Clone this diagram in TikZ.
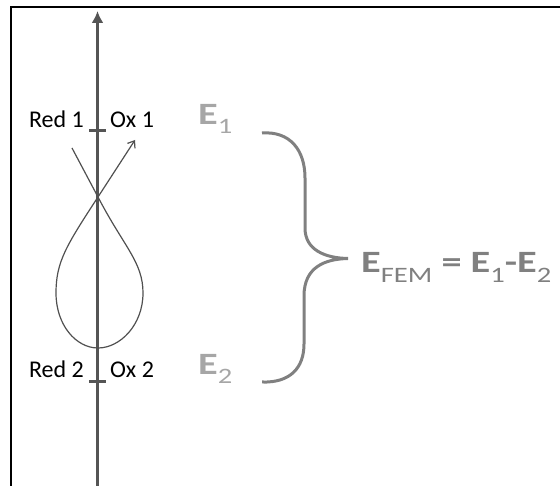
\documentclass[tikz,border=0pt]{standalone}
\usepackage{fontspec}
\usepackage{graphicx}
\setmainfont{Carlito}
\usetikzlibrary{arrows.meta}

\definecolor{axisgrey}{HTML}{555555}
\definecolor{curvegrey}{HTML}{505050}
\definecolor{bracegrey}{HTML}{808080}
\definecolor{levelgrey}{HTML}{A6A6A6}

% lowered index in the same font
\newcommand{\lowidx}[2]{\raisebox{-#1}{\fontsize{22}{22}\selectfont #2}}
% the energy labels are set wide
\newcommand{\widetext}[1]{\scalebox{1.3}[1]{#1}}

\begin{document}
\begin{tikzpicture}[x=1pt, y=-1pt,
  redox/.style={font=\fontsize{24}{28}\selectfont, text=black, inner sep=0pt},
  level/.style={font=\fontsize{31}{34}\selectfont\bfseries, text=levelgrey, inner sep=0pt},
  fem/.style={font=\fontsize{31}{36}\selectfont\bfseries, text=bracegrey, inner sep=0pt}]
  \useasboundingbox (0, 0) rectangle (560, 486);

  % frame, cut off at the right and bottom
  \draw[line width=1.2pt] (11, 486) -- (11, 7) -- (560, 7);

  \coordinate (Abot) at (97.5, 486);
  \coordinate (Atop) at (97.5, 11);
  \draw[line width=3pt, axisgrey, -{Latex[length=12pt, width=12pt]}] (Abot) -- (Atop);

  \coordinate (T1) at (97.5, 131);
  \coordinate (T2) at (97.5, 382);
  \draw[line width=3pt, axisgrey] (T1) +(-8.5, 0) -- +(8.5, 0);
  \draw[line width=3pt, axisgrey] (T2) +(-8.5, 0) -- +(8.5, 0);

  \node[redox, anchor=base east] (red1) at (84, 128) {Red 1};
  \node[redox, anchor=base west] (ox1) at (110, 128) {Ox 1};
  \node[redox, anchor=base east] (red2) at (84, 378) {Red 2};
  \node[redox, anchor=base west] (ox2) at (110, 378) {Ox 2};

  % the cyclic voltammogram loop
  \coordinate (S) at (72, 148);
  \coordinate (X) at (98, 197);
  \coordinate (P) at (135, 140);
  \draw[line width=1.2pt, curvegrey, -{Straight Barb[length=6pt, width=9pt]}]
    (S) -- (X) .. controls (124, 247) and (143, 262) .. (143, 293)
    .. controls (143, 325) and (120, 348) .. (98, 348)
    .. controls (76, 348) and (56, 325) .. (56, 293)
    .. controls (56, 262) and (66, 246) .. (X) -- (P);

  \node[level, anchor=base west] (E1) at (198, 125)
    {\widetext{E\lowidx{9pt}{\mdseries 1}}};
  \node[level, anchor=base west] (E2) at (198, 375)
    {\widetext{E\lowidx{9pt}{\mdseries 2}}};

  % brace between the two levels
  \coordinate (Btop) at (262, 133);
  \coordinate (Btip) at (348, 258.5);
  \coordinate (Bbot) at (262, 382);
  \draw[line width=3pt, bracegrey]
    (Btop) .. controls (290, 131) and (305, 150) .. (305, 178) -- (305, 228)
    .. controls (305, 250) and (325, 258) .. (Btip)
    .. controls (325, 259) and (304, 267) .. (304, 296) -- (304, 344)
    .. controls (304, 368) and (290, 383) .. (Bbot);

  \node[fem, anchor=base west] (Efem) at (361, 273)
    {\widetext{E\lowidx{10pt}{\mdseries FEM} = E\lowidx{10pt}{\mdseries 1}-E\lowidx{10pt}{\mdseries 2}}};
\end{tikzpicture}
\end{document}
